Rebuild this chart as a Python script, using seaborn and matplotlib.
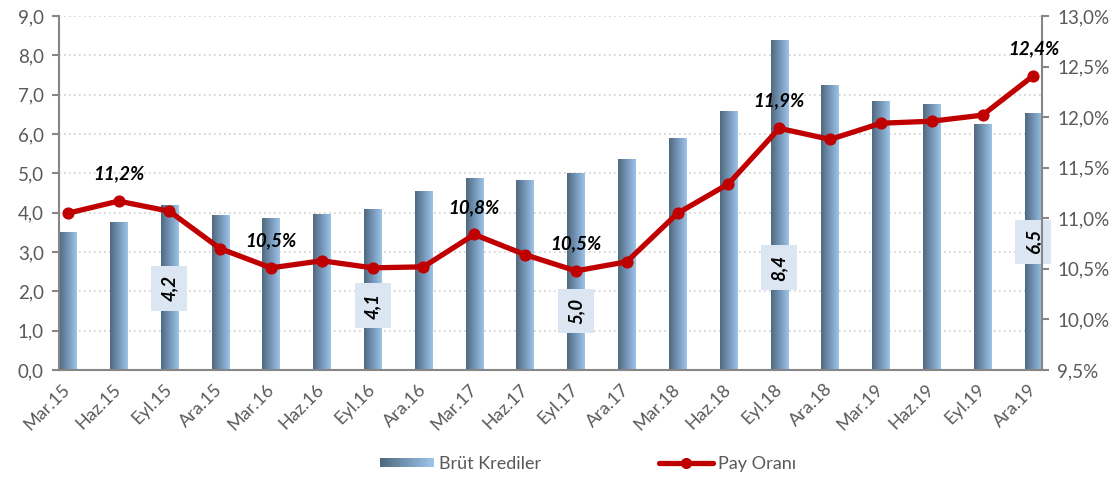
import numpy as np
import pandas as pd
import matplotlib
matplotlib.use("Agg")
import matplotlib.pyplot as plt
import seaborn as sns
from matplotlib.colors import LinearSegmentedColormap
from matplotlib.legend_handler import HandlerBase
from matplotlib.patches import Rectangle
from matplotlib.lines import Line2D
from matplotlib.ticker import FixedLocator

# data
quarters = ["Mar.15", "Haz.15", "Eyl.15", "Ara.15", "Mar.16", "Haz.16", "Eyl.16", "Ara.16",
            "Mar.17", "Haz.17", "Eyl.17", "Ara.17", "Mar.18", "Haz.18", "Eyl.18", "Ara.18",
            "Mar.19", "Haz.19", "Eyl.19", "Ara.19"]
brut_krediler = [3.51, 3.76, 4.2, 3.94, 3.86, 3.97, 4.1, 4.55, 4.88, 4.83, 5.0, 5.36,
                 5.9, 6.59, 8.4, 7.25, 6.84, 6.76, 6.25, 6.53]
pay_orani = [11.05, 11.17, 11.07, 10.70, 10.51, 10.58, 10.51, 10.52, 10.84, 10.64, 10.48, 10.57,
             11.05, 11.34, 11.89, 11.78, 11.94, 11.96, 12.02, 12.41]
bar_label_idx = [2, 6, 10, 14, 19]
pct_label_idx = [1, 4, 8, 10, 14, 19]

# label box heights (data units, left axis)
bar_label_y = {2: 2.08, 6: 1.63, 10: 1.5, 14: 2.6, 19: 3.26}

df = pd.DataFrame({"Donem": quarters, "Brut": brut_krediler, "Pay": pay_orani})
df["pos"] = np.arange(len(df))

sns.set_style("white")
plt.rcParams['font.family'] = ['Lato', 'DejaVu Sans']

grey = "#595959"
spine_c = "#868686"
dark_c = "#50697f"
light_c = "#9dc4e8"
red = "#c00000"
cmap = LinearSegmentedColormap.from_list("bar", [dark_c, "#7596b8", light_c])

fig = plt.figure(figsize=(11.16, 4.86), dpi=100)
ax = fig.add_axes([0.0529, 0.2387, 0.8808, 0.7283])

sns.barplot(data=df, x="Donem", y="Brut", ax=ax, width=0.34, color=light_c, zorder=2)
xl = (-0.17, len(df) - 1 + 0.17)
ax.set_ylim(0, 9)

# gradient fill inside each bar
grad = np.linspace(0, 1, 64).reshape(1, -1)
for p in list(ax.patches):
    x0, y0 = p.get_x(), p.get_y()
    w, h = p.get_width(), p.get_height()
    p.set_facecolor("none")
    p.set_edgecolor("none")
    im = ax.imshow(grad, extent=[x0, x0 + w, y0, y0 + h], aspect="auto", cmap=cmap,
                   origin="lower", zorder=2, interpolation="bilinear")
    im.set_clip_path(p)
ax.set_xlim(*xl)
ax.set_ylim(0, 9)
ax.set_aspect("auto")

ax.set_yticks(np.arange(0, 9.01, 1))
ax.set_yticklabels([f"{v:.1f}".replace(".", ",") for v in np.arange(0, 9.01, 1)])
ax.yaxis.grid(True, linestyle=(0, (1, 2)), color="#d0d0d0", linewidth=1.2, zorder=0)
ax.set_axisbelow(True)
ax.set_xlabel("")
ax.set_ylabel("")

ax.set_xticks(df["pos"])
ax.set_xticklabels(quarters, rotation=45, ha="right", rotation_mode="anchor", va="center")
ax.xaxis.set_minor_locator(FixedLocator(df["pos"] - 0.167))
ax.tick_params(axis="x", which="major", length=0, pad=12, labelsize=13, colors=grey)
ax.tick_params(axis="x", which="minor", length=5, width=1.5, color=spine_c, direction="out")
ax.tick_params(axis="y", length=5, width=1.5, color=spine_c, labelsize=13.5, labelcolor=grey, pad=6, left=True)

for s in ["left", "bottom"]:
    ax.spines[s].set_color(spine_c)
    ax.spines[s].set_linewidth(1.5)
for s in ["top", "right"]:
    ax.spines[s].set_visible(False)

# bar value labels
for i in bar_label_idx:
    ax.text(i, bar_label_y[i], f"{brut_krediler[i]:.1f}".replace(".", ","), rotation=90,
            ha="center", va="center", fontsize=13.5, fontweight="bold", fontstyle="italic",
            color="black", zorder=5,
            bbox=dict(boxstyle="square,pad=0.5", facecolor="#dce6f2", edgecolor="none"))

ax2 = ax.twinx()
sns.lineplot(data=df, x="pos", y="Pay", ax=ax2, color=red, linewidth=3.8, marker="o",
             markersize=8, markeredgecolor=red, zorder=4)
ax2.set_xlim(*xl)
ax2.set_ylim(9.5, 13.0)
rt = np.arange(9.5, 13.01, 0.5)
ax2.set_yticks(rt)
ax2.set_yticklabels([f"{v:.1f}%".replace(".", ",") for v in rt])
ax2.set_ylabel("")
ax2.set_xlabel("")
ax2.tick_params(axis="y", length=5, width=1.5, color=spine_c, labelsize=13.5, labelcolor=grey, pad=6, right=True)
ax2.spines["right"].set_color(spine_c)
ax2.spines["right"].set_linewidth(1.5)
for s in ["top", "left", "bottom"]:
    ax2.spines[s].set_visible(False)
ax2.grid(False)

for i in pct_label_idx:
    ax2.annotate(f"{pay_orani[i]:.1f}%".replace(".", ","), (i, pay_orani[i]),
                 xytext=(0, 19.5), textcoords="offset points", ha="center", va="center",
                 fontsize=13.5, fontweight="bold", fontstyle="italic", color="black", zorder=6)


class GradientHandler(HandlerBase):
    def create_artists(self, legend, orig_handle, xdescent, ydescent, width, height, fontsize, trans):
        n = 30
        arts = []
        for k in range(n):
            r = Rectangle((-xdescent + width * k / n, -ydescent + height * 0.15), width / n + 0.3,
                          height * 0.7, facecolor=cmap(k / (n - 1)), edgecolor="none", transform=trans)
            arts.append(r)
        return arts


bar_handle = Rectangle((0, 0), 1, 1)
line_handle = Line2D([], [], color=red, linewidth=3.8, marker="o", markersize=7)
fig.legend([bar_handle, line_handle], ["Brüt Krediler", "Pay Oranı"],
           handler_map={Rectangle: GradientHandler()}, loc="lower center",
           bbox_to_anchor=(0.527, -0.005), ncol=2, frameon=False, fontsize=13,
           labelcolor=grey, columnspacing=6.5, handlelength=3.0, handletextpad=0.3)

fig.savefig("out.png", dpi=100)
